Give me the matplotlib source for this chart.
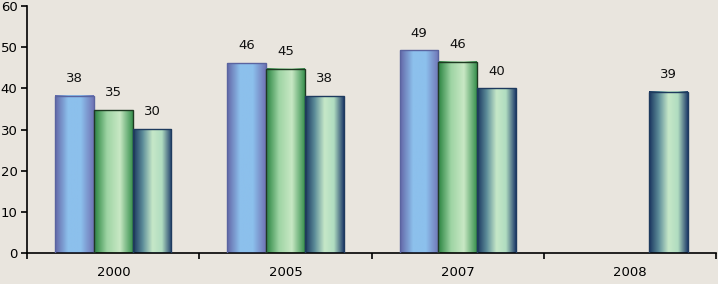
import numpy as np
import matplotlib.pyplot as plt
from matplotlib.colors import LinearSegmentedColormap

years = ['2000', '2005', '2007', '2008']
series_a = [38.2, 46.1, 49.2, np.nan]
series_b = [34.7, 44.7, 46.4, np.nan]
series_c = [30.1, 38.1, 40.0, 39.1]

bg = '#E9E5DE'

# edge -> centre -> edge gradients, plus outline colour
styles = [
    (['#6468A8', '#8CC0EC', '#8CC0EC', '#7075B6'], '#5A64A0'),
    (['#2A8440', '#9ED4A4', '#C8E8C4', '#3A9250'], '#1E3A22'),
    (['#1A365F', '#5E8E9A', '#C6E8C8', '#B0DCC0', '#223F6C'], '#1E3A5E'),
]

fig = plt.figure(figsize=(7.18, 2.84), dpi=100)
fig.patch.set_facecolor(bg)
ax = fig.add_axes([0.038, 0.109, 0.959, 0.870])
ax.set_facecolor(bg)

x = np.arange(len(years))
w = 0.225
offsets = [-w, 0, w]

for vals, off, (cols, edge) in zip([series_a, series_b, series_c], offsets, styles):
    cmap = LinearSegmentedColormap.from_list('g', cols)
    grad = np.linspace(0, 1, 64).reshape(1, -1)
    bars = ax.bar(x + off, np.nan_to_num(vals), w, facecolor='none',
                  edgecolor=edge, linewidth=1.0, zorder=3)
    for b, v in zip(bars, vals):
        if np.isnan(v):
            b.set_visible(False)
            continue
        x0, y0 = b.get_x(), b.get_y()
        ax.imshow(grad, cmap=cmap, aspect='auto', zorder=2,
                  extent=(x0, x0 + b.get_width(), y0, y0 + b.get_height()))
        ax.text(x0 + b.get_width() / 2, v + 2.6, f'{v:.0f}', ha='center',
                va='bottom', fontsize=9.5, color='#111111')

ax.set_xlim(-0.5, len(years) - 0.5)
ax.set_ylim(0, 60)
ax.set_yticks(range(0, 61, 10))
ax.set_xticks(x)
ax.set_xticklabels(years)
ax.set_xticks(np.arange(-0.5, len(years)), minor=True)
ax.tick_params(axis='x', which='major', length=0, pad=9, labelsize=9.5)
ax.tick_params(axis='x', which='minor', length=4, width=1.2, direction='out')
ax.tick_params(axis='y', length=4, width=1.2, direction='out', pad=3, labelsize=9.5)

for s in ['top', 'right']:
    ax.spines[s].set_visible(False)
ax.spines['left'].set_linewidth(1.2)
ax.spines['bottom'].set_linewidth(1.2)

fig.savefig('out.png', dpi=100, facecolor=bg)
